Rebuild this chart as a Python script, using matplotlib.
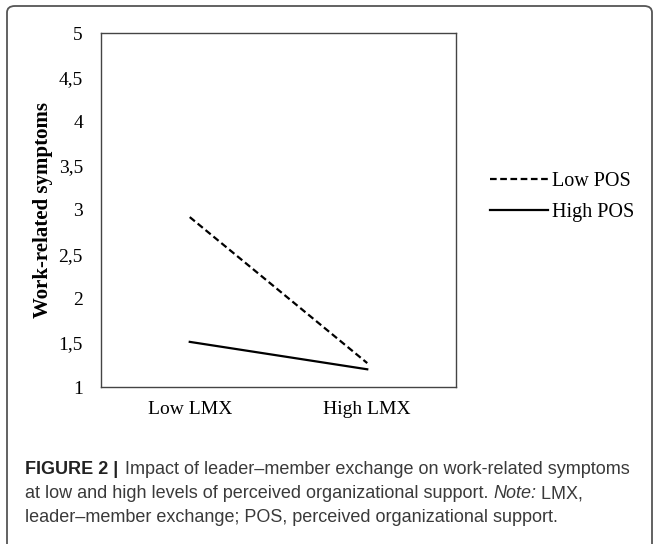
import matplotlib
matplotlib.use("Agg")
import matplotlib.pyplot as plt
from matplotlib.patches import FancyBboxPatch
from matplotlib.ticker import FuncFormatter

categories = ["Low LMX", "High LMX"]
low_pos = [2.92, 1.27]
high_pos = [1.51, 1.20]
yticks = [1, 1.5, 2, 2.5, 3, 3.5, 4, 4.5, 5]

W, H = 659, 544
fig = plt.figure(figsize=(W / 100, H / 100), dpi=100)

# outer rounded frame
frame = FancyBboxPatch((7 / W, -0.02), (652 - 7) / W, (H - 6) / H + 0.02,
                       boxstyle="round,pad=0,rounding_size=0.012",
                       transform=fig.transFigure, fill=False,
                       edgecolor="#555555", linewidth=1.3)
fig.patches.append(frame)

ax = fig.add_axes([101 / W, 1 - 387 / H, (456 - 101) / W, (387 - 33) / H])
serif = "Liberation Serif"
x = [0.5, 1.5]
l1, = ax.plot(x, low_pos, color="black", linestyle=(0, (3, 1.6)), linewidth=1.6)
l2, = ax.plot(x, high_pos, color="black", linestyle="-", linewidth=1.6)
ax.set_xlim(0, 2)
ax.set_ylim(1, 5)
ax.set_yticks(yticks)
ax.yaxis.set_major_formatter(FuncFormatter(lambda v, p: (f"{v:g}").replace(".", ",")))
ax.set_xticks(x)
ax.set_xticklabels(categories)
ax.tick_params(length=0, labelsize=14, pad=10)
ax.tick_params(axis="y", pad=13)
for lab in ax.get_xticklabels() + ax.get_yticklabels():
    lab.set_fontfamily(serif)
for s in ax.spines.values():
    s.set_color("#444444")
    s.set_linewidth(1.0)
ax.set_ylabel("Work-related symptoms", fontfamily=serif, fontweight="bold",
              fontsize=15, labelpad=4)

fig.legend([l1, l2], ["Low POS", "High POS"], loc="center left",
           bbox_to_anchor=(472 / W, 1 - 197 / H), frameon=False,
           prop={"family": serif, "size": 14.5}, handlelength=2.85,
           handletextpad=0.2, labelspacing=0.62)

# caption
cap = "Liberation Sans"
fs = 13
col = "#3a3a3a"
fig.text(25 / W, 1 - 470 / H, "FIGURE 2 |", fontfamily=cap, fontweight="bold",
         fontsize=fs, va="center", color="#222222")
fig.text(125 / W, 1 - 470 / H,
         "Impact of leader–member exchange on work-related symptoms",
         fontfamily=cap, fontsize=fs, va="center", color=col)
t = fig.text(25 / W, 1 - 494 / H,
             "at low and high levels of perceived organizational support. ",
             fontfamily=cap, fontsize=fs, va="center", color=col)
fig.canvas.draw()
bb = t.get_window_extent()
t2 = fig.text(bb.x1 / W, 1 - 494 / H, "Note:", fontfamily=cap, fontstyle="italic",
              fontsize=fs, va="center", color=col)
fig.canvas.draw()
bb2 = t2.get_window_extent()
fig.text(bb2.x1 / W, 1 - 494 / H, " LMX,", fontfamily=cap,
         fontsize=fs, va="center", color=col)
fig.text(25 / W, 1 - 518 / H,
         "leader–member exchange; POS, perceived organizational support.",
         fontfamily=cap, fontsize=fs, va="center", color=col)

fig.savefig("out.png", dpi=100)
